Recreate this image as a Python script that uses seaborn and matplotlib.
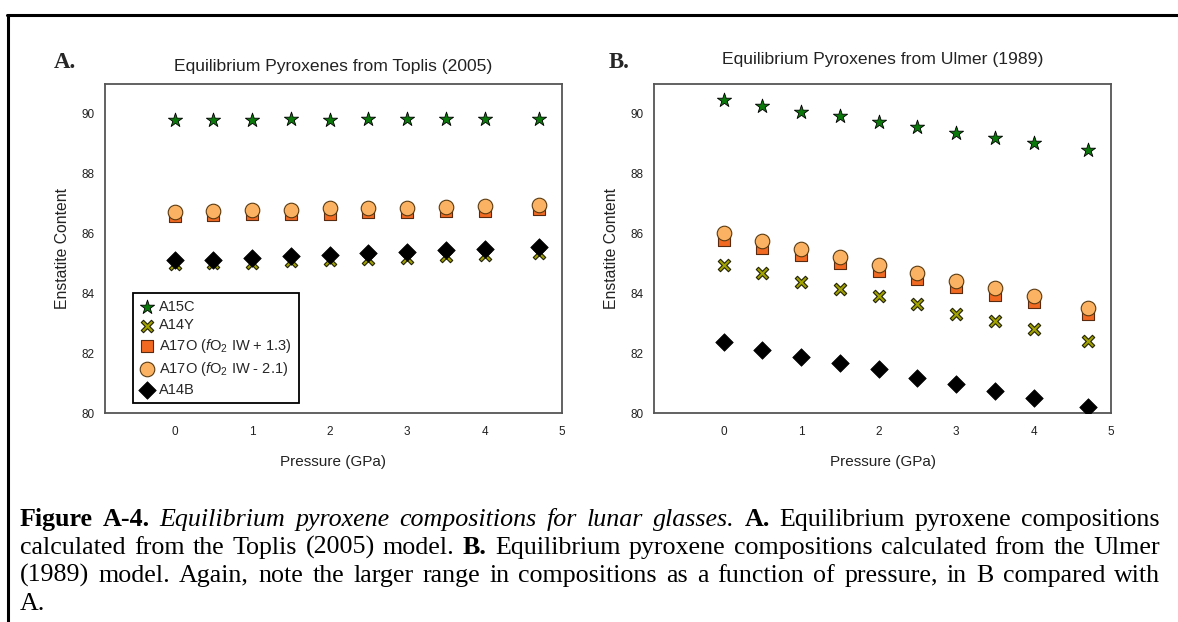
import matplotlib
matplotlib.use("Agg")
import matplotlib.pyplot as plt
import seaborn as sns
import numpy as np
import pandas as pd
from matplotlib.lines import Line2D
from matplotlib.path import Path

# ---------------- data ----------------
pressure = [0, 0.5, 1, 1.5, 2, 2.5, 3, 3.5, 4, 4.7]
series_names = ["A15C", "A14Y", "A17O ($f$O$_2$ IW + 1.3)", "A17O ($f$O$_2$ IW - 2.1)", "A14B"]

toplis_A15C = [89.80, 89.80, 89.80, 89.82, 89.80, 89.82, 89.82, 89.82, 89.82, 89.82]
toplis_A14Y = [84.98, 85.00, 85.02, 85.08, 85.10, 85.14, 85.18, 85.24, 85.28, 85.36]
toplis_A17O_hi = [86.60, 86.62, 86.64, 86.66, 86.67, 86.72, 86.72, 86.75, 86.77, 86.82]
toplis_A17O_lo = [86.72, 86.75, 86.78, 86.78, 86.86, 86.86, 86.86, 86.90, 86.93, 86.97]
toplis_A14B = [85.10, 85.13, 85.18, 85.26, 85.28, 85.35, 85.37, 85.44, 85.49, 85.56]

ulmer_A15C = [90.46, 90.27, 90.08, 89.93, 89.74, 89.57, 89.37, 89.21, 89.04, 88.79]
ulmer_A14Y = [84.94, 84.67, 84.39, 84.14, 83.90, 83.65, 83.32, 83.07, 82.82, 82.42]
ulmer_A17O_hi = [85.78, 85.53, 85.28, 85.02, 84.75, 84.48, 84.20, 83.95, 83.70, 83.30]
ulmer_A17O_lo = [86.01, 85.75, 85.49, 85.22, 84.94, 84.67, 84.40, 84.17, 83.90, 83.52]
ulmer_A14B = [82.36, 82.12, 81.87, 81.67, 81.47, 81.18, 80.98, 80.74, 80.51, 80.19]

titles = ["Equilibrium Pyroxenes from Toplis (2005)", "Equilibrium Pyroxenes from Ulmer (1989)"]
panel_letters = ["A.", "B."]
xticks = [0, 1, 2, 3, 4, 5]
yticks = [80, 82, 84, 86, 88, 90]

# ---------------- style ----------------
sns.set_theme(style="white")
plt.rcParams["font.family"] = ["Liberation Sans", "DejaVu Sans"]
plt.rcParams["mathtext.fontset"] = "custom"
plt.rcParams["mathtext.rm"] = "Liberation Sans"
plt.rcParams["mathtext.it"] = "Liberation Sans:italic"

W, H = 1178, 622
fig = plt.figure(figsize=(W / 100, H / 100), dpi=100)
fig.patch.set_facecolor("white")

# thin "x" outline marker
_d = 0.36
thin_x = Path([(0, _d), (1 - _d, 1), (1, 1 - _d), (_d, 0), (1, -1 + _d), (1 - _d, -1),
               (0, -_d), (-1 + _d, -1), (-1, -1 + _d), (-_d, 0), (-1, 1 - _d), (-1 + _d, 1),
               (0, _d)], closed=True)

styles = [
    dict(marker="*", s=115, color="#0a780a", edgecolor="black", linewidth=0.6),
    dict(marker=thin_x, s=80, color="#a3a300", edgecolor="#202000", linewidth=0.8),
    dict(marker="s", s=80, color="#f26a22", edgecolor="#5a2a10", linewidth=0.8),
    dict(marker="o", s=110, color="#fbb262", edgecolor="#5a3a10", linewidth=0.8),
    dict(marker="D", s=80, color="black", edgecolor="black", linewidth=0.5),
]

datasets = [
    [toplis_A15C, toplis_A14Y, toplis_A17O_hi, toplis_A17O_lo, toplis_A14B],
    [ulmer_A15C, ulmer_A14Y, ulmer_A17O_hi, ulmer_A17O_lo, ulmer_A14B],
]

ax_lefts = [105, 654]
ax_w = 457
ax_top, ax_bot = 84, 413
title_pads = [9, 14.5]
letter_x = [54, 609]

axes = []
for i in range(2):
    ax = fig.add_axes([ax_lefts[i] / W, 1 - ax_bot / H, ax_w / W, (ax_bot - ax_top) / H])
    axes.append(ax)
    for name, vals, st in zip(series_names, datasets[i], styles):
        df = pd.DataFrame({"Pressure": pressure, "Value": vals})
        sns.scatterplot(data=df, x="Pressure", y="Value", ax=ax, label=name, zorder=3, **st)
    ax.set_xlim(-0.9, 5)
    ax.set_ylim(80, 91)
    ax.set_xticks(xticks)
    ax.set_yticks(yticks)
    ax.tick_params(axis="both", which="both", direction="out", length=3.5, width=1.0,
                   color="#444444", labelsize=8.5, labelcolor="#222222")
    ax.tick_params(axis="x", pad=6)
    ax.tick_params(axis="y", pad=4)
    for sp in ax.spines.values():
        sp.set_color("#555555")
        sp.set_linewidth(1.3)
    ax.set_xlabel("Pressure (GPa)", fontsize=11, color="#222222", labelpad=12)
    ax.set_ylabel("Enstatite Content", fontsize=11.3, color="#222222", labelpad=8)
    ax.set_title(titles[i], fontsize=12.6, color="#222222", pad=title_pads[i])
    fig.text(letter_x[i] / W, 1 - 62 / H, panel_letters[i], fontsize=16.5, weight="bold",
             family="Liberation Serif", va="center", ha="left")
    if i == 0:
        leg = ax.legend(loc="upper left", bbox_to_anchor=((133 - 105) / ax_w, (413 - 293) / 329),
                        borderaxespad=0, fancybox=False, framealpha=1, edgecolor="black",
                        fontsize=10.5, labelspacing=0.33, handletextpad=0.35, handlelength=1.0,
                        borderpad=0.45, scatterpoints=1)
        leg.get_frame().set_linewidth(1.3)
    else:
        if ax.get_legend() is not None:
            ax.get_legend().remove()

# ---------------- figure border ----------------
fig.add_artist(Line2D([8 / W, 8 / W], [0, 1 - 15 / H], transform=fig.transFigure, color="black", lw=2.2))
fig.add_artist(Line2D([7 / W, 1], [1 - 15 / H, 1 - 15 / H], transform=fig.transFigure, color="black", lw=2.2))

# ---------------- caption (justified) ----------------
cap_lines = [
    [("Figure A-4.", "b"), ("Equilibrium pyroxene compositions for lunar glasses.", "i"),
     ("A.", "b"), ("Equilibrium pyroxene compositions", "r")],
    [("calculated from the Toplis (2005) model.", "r"), ("B.", "b"),
     ("Equilibrium pyroxene compositions calculated from the Ulmer", "r")],
    [("(1989) model. Again, note the larger range in compositions as a function of pressure, in B compared with", "r")],
    [("A.", "r")],
]
cap_y = [526, 554, 582, 610]
x0_px, x1_px = 20, 1160

fig.canvas.draw()
renderer = fig.canvas.get_renderer()


def make_words(segs, size):
    out = []
    for seg, st in segs:
        for w in seg.split(" "):
            t = fig.text(0, 0, w, fontsize=size, family="Liberation Serif",
                         weight="bold" if st == "b" else "normal",
                         style="italic" if st == "i" else "normal",
                         va="baseline", ha="left", color="black")
            out.append(t)
    return out


# choose caption font size so that line 3 fills the width with natural spacing
probe_size = 12.0
probe = make_words(cap_lines[2], probe_size)
pw = sum(t.get_window_extent(renderer).width for t in probe)
n = len(probe)
for t in probe:
    t.remove()
space_px = 0.25 * probe_size * 100 / 72
cap_size = 0.96 * probe_size * (x1_px - x0_px) / (pw + (n - 1) * space_px)

for li, segs in enumerate(cap_lines):
    texts = make_words(segs, cap_size)
    widths = [t.get_window_extent(renderer).width for t in texts]
    justify = li < len(cap_lines) - 1
    if justify and len(texts) > 1:
        gap = (x1_px - x0_px - sum(widths)) / (len(texts) - 1)
    else:
        gap = 0.25 * cap_size * 100 / 72
    x = x0_px
    for t, wdt in zip(texts, widths):
        t.set_x(x / W)
        t.set_y(1 - cap_y[li] / H)
        x += wdt + gap

fig.savefig("out.png", dpi=100, facecolor="white")
